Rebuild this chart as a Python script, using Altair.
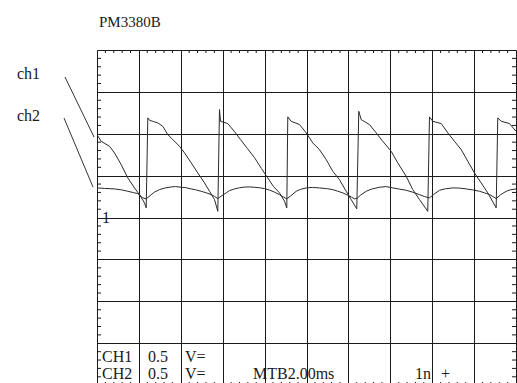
import altair as alt
import pandas as pd

# Channel 1 trace: time (ms) and voltage (V), 0.5 V/div, 2 ms/div
ch1_ms = [0.000, 0.200, 0.597, 0.835, 1.155, 1.470, 1.790, 2.029, 2.267, 2.348,
          2.425, 2.506, 2.697, 2.902, 3.141, 3.379, 3.618, 3.938, 4.176, 4.496,
          4.811, 5.131, 5.370, 5.608, 5.766, 5.847, 5.895, 6.243, 6.563, 6.849,
          7.183, 7.517, 7.852, 8.138, 8.425, 8.711, 8.950, 9.059, 9.107, 9.269,
          9.666, 9.985, 10.300, 10.620, 10.940, 11.255, 11.575, 11.894, 12.133, 12.400,
          12.496, 12.611, 13.007, 13.326, 13.641, 14.042, 14.357, 14.758, 15.073, 15.393,
          15.789, 15.870, 16.028, 16.429, 16.744, 17.064, 17.384, 17.699, 18.018, 18.338,
          18.653, 19.054, 19.130, 19.293, 19.689, 20.000]
ch1_volts = [0.990, 0.910, 0.851, 0.772, 0.632, 0.474, 0.354, 0.274, 0.175, 0.116,
             1.190, 1.161, 1.146, 1.130, 1.089, 0.990, 0.931, 0.851, 0.772, 0.653,
             0.533, 0.414, 0.314, 0.215, 0.075, 1.289, 1.149, 1.122, 1.026, 0.931,
             0.823, 0.716, 0.585, 0.477, 0.370, 0.295, 0.195, 0.116, 1.202, 1.149,
             1.110, 1.011, 0.891, 0.811, 0.692, 0.552, 0.453, 0.314, 0.215, 0.104,
             1.268, 1.169, 1.110, 1.011, 0.910, 0.791, 0.653, 0.493, 0.334, 0.215,
             0.075, 1.202, 1.149, 1.122, 1.011, 0.910, 0.811, 0.672, 0.533, 0.414,
             0.295, 0.116, 1.190, 1.149, 1.122, 1.030]

# Channel 2 trace
ch2_ms = [0.000, 0.358, 0.835, 1.169, 1.470, 1.742, 1.947, 2.186, 2.348, 2.587,
          2.744, 2.983, 3.222, 3.542, 3.747, 4.019, 4.224, 4.496, 4.701, 4.973,
          5.226, 5.451, 5.608, 5.766, 5.942, 6.167, 6.324, 6.563, 6.802, 7.040,
          7.279, 7.517, 7.756, 7.995, 8.234, 8.472, 8.711, 8.902, 9.059, 9.236,
          9.508, 9.713, 9.985, 10.286, 10.620, 10.954, 11.255, 11.479, 11.732, 11.957,
          12.148, 12.291, 12.434, 12.577, 12.849, 13.102, 13.484, 13.803, 14.122, 14.438,
          14.758, 15.059, 15.393, 15.632, 15.870, 16.061, 16.348, 16.634, 16.983, 17.302,
          17.622, 17.923, 18.257, 18.496, 18.734, 18.902, 19.054, 19.260, 19.532, 19.737,
          20.000]
ch2_volts = [0.354, 0.348, 0.342, 0.331, 0.314, 0.298, 0.286, 0.235, 0.223, 0.274,
             0.304, 0.334, 0.352, 0.366, 0.370, 0.362, 0.358, 0.342, 0.332, 0.314,
             0.295, 0.274, 0.253, 0.227, 0.259, 0.295, 0.322, 0.342, 0.356, 0.364,
             0.366, 0.362, 0.356, 0.346, 0.328, 0.304, 0.274, 0.245, 0.223, 0.257,
             0.314, 0.337, 0.354, 0.360, 0.354, 0.346, 0.334, 0.316, 0.295, 0.268,
             0.245, 0.223, 0.233, 0.268, 0.314, 0.340, 0.362, 0.370, 0.354, 0.340,
             0.326, 0.304, 0.274, 0.251, 0.235, 0.274, 0.326, 0.344, 0.354, 0.352,
             0.342, 0.331, 0.314, 0.296, 0.274, 0.251, 0.227, 0.272, 0.314, 0.332,
             0.342]

# Screen graticule: major divisions and the 1/5 sub-division marks on the frame
major_ms = [0, 2, 4, 6, 8, 10, 12, 14, 16, 18, 20]
major_volts = [-1.5, -1.0, -0.5, 0.0, 0.5, 1.0, 1.5, 2.0]
minor_ms = [round(i * 0.4, 2) for i in range(51) if i % 5]
minor_volts = [round(-2 + i * 0.1, 2) for i in range(41) if i % 5]

W, H = 419, 333
INK = "#1a1a1a"
FONT = "Liberation Serif"

x_scale = alt.Scale(domain=[0, 20], nice=False, zero=False)
y_scale = alt.Scale(domain=[-1.974, 2], nice=False, zero=False)

traces = pd.concat([
    pd.DataFrame({"ms": ch1_ms, "volts": ch1_volts, "ch": "ch1"}),
    pd.DataFrame({"ms": ch2_ms, "volts": ch2_volts, "ch": "ch2"}),
])

lines = alt.Chart(traces).mark_line(strokeWidth=1, color="#2a2a2a", clip=True).encode(
    x=alt.X("ms:Q", scale=x_scale,
            axis=alt.Axis(values=major_ms, grid=True, gridColor=INK, gridWidth=1,
                          labels=False, ticks=False, domain=False, title=None)),
    y=alt.Y("volts:Q", scale=y_scale,
            axis=alt.Axis(values=major_volts, grid=True, gridColor=INK, gridWidth=1,
                          labels=False, ticks=False, domain=False, title=None)),
    detail="ch:N",
)

tick_t = pd.DataFrame({"ms": minor_ms})
tick_v = pd.DataFrame({"volts": minor_volts})
tick_style = dict(color=INK, strokeWidth=1)

top_ticks = alt.Chart(tick_t).mark_rule(**tick_style).encode(
    x=alt.X("ms:Q", scale=x_scale), y=alt.value(0), y2=alt.value(3))
bottom_ticks = alt.Chart(tick_t).mark_rule(**tick_style).encode(
    x=alt.X("ms:Q", scale=x_scale), y=alt.value(332), y2=alt.value(336))
left_ticks = alt.Chart(tick_v).mark_rule(**tick_style).encode(
    y=alt.Y("volts:Q", scale=y_scale), x=alt.value(0), x2=alt.value(4))
right_ticks = alt.Chart(tick_v).mark_rule(**tick_style).encode(
    y=alt.Y("volts:Q", scale=y_scale), x=alt.value(W - 4), x2=alt.value(W))


def label(text, x, y, size=14):
    return alt.Chart(pd.DataFrame({"s": [text]})).mark_text(
        align="left", baseline="alphabetic", font=FONT, fontSize=size, color=INK
    ).encode(text="s:N", x=alt.value(x), y=alt.value(y))


def leader(x1, y1, x2, y2):
    return alt.Chart(pd.DataFrame({"s": [0]})).mark_rule(
        color="#333333", strokeWidth=1
    ).encode(x=alt.value(x1), y=alt.value(y1), x2=alt.value(x2), y2=alt.value(y2))


ground_marker = alt.Chart(pd.DataFrame({"volts": [0.0]})).mark_text(
    align="center", baseline="middle", font=FONT, fontSize=16, color=INK
).encode(x=alt.value(9), y=alt.Y("volts:Q", scale=y_scale), text=alt.value("1"))

annotations = [
    label("PM3380B", 2, -23, 15),
    label("ch1", -80, 29, 16),
    label("ch2", -80, 71, 16),
    leader(-32, 27, -3, 87),
    leader(-33, 68, -4, 137),
    label("CH1", 5, 312, 16),
    label("0.5", 51, 312, 16),
    label("V=", 88, 312, 16),
    label("CH2", 5, 329, 16),
    label("0.5", 51, 329, 16),
    label("V=", 88, 329, 16),
    label("MTB2.00ms", 156, 329, 16),
    label("1n", 318, 329, 16),
    label("+", 344, 329, 16),
    ground_marker,
]

chart = alt.layer(
    lines, top_ticks, bottom_ticks, left_ticks, right_ticks, *annotations
).properties(
    width=W, height=H,
    autosize=alt.AutoSizeParams(type="none"),
    padding={"left": 97, "top": 50, "right": 1, "bottom": 0},
    background="white",
).configure_view(stroke=None)

chart.save("out.html", embed_options={"renderer": "svg", "actions": False})
